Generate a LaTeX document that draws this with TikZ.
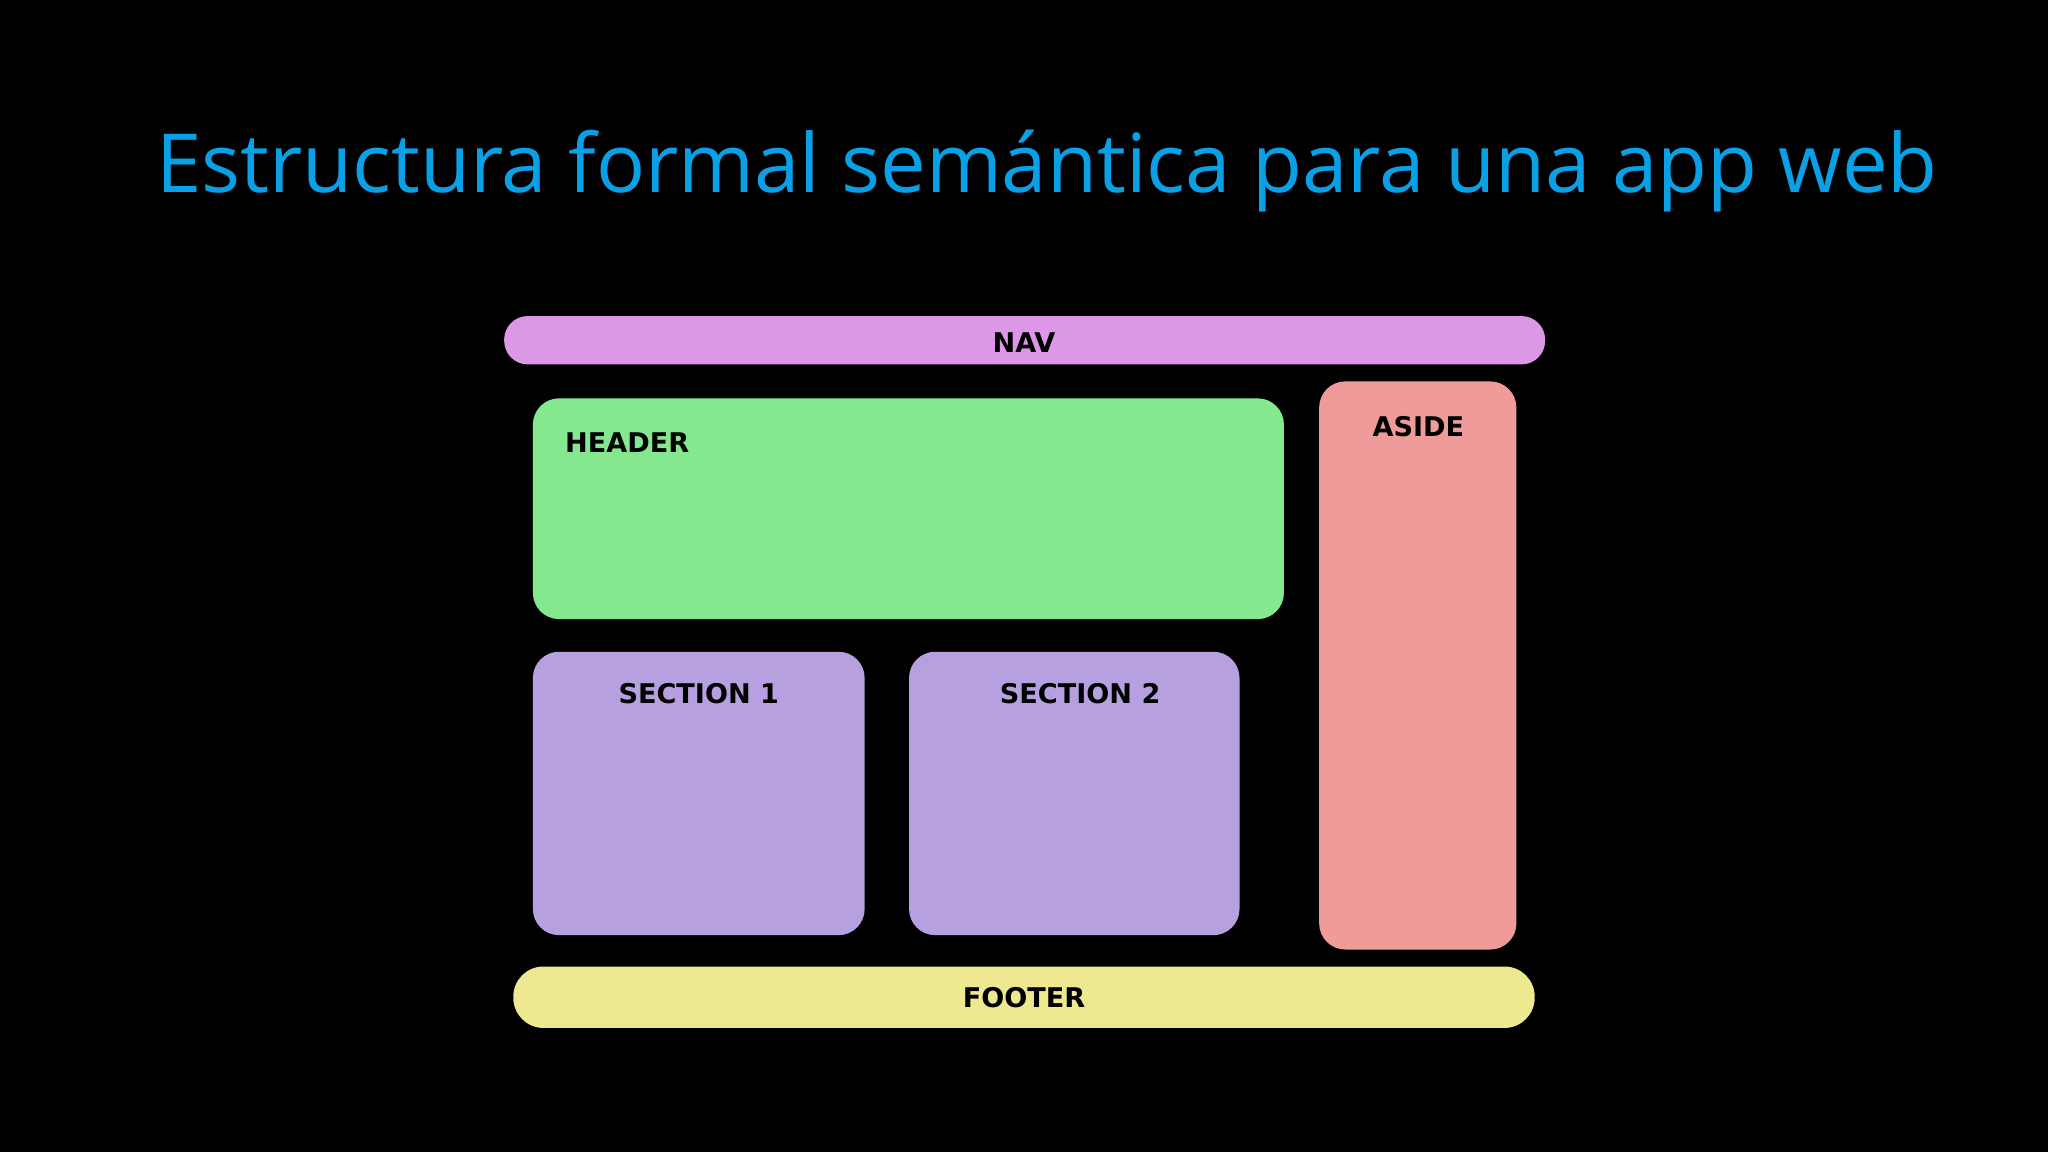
\documentclass[tikz,border=0pt]{standalone}
\usepackage{fontspec}
\setmainfont{Open Sans}
\newfontfamily\lbl{DejaVu Sans}
\definecolor{titleblue}{RGB}{10,160,230}
\definecolor{navc}{RGB}{220,152,230}
\definecolor{headc}{RGB}{134,232,142}
\definecolor{asidec}{RGB}{239,155,154}
\definecolor{secc}{RGB}{182,160,224}
\definecolor{footc}{RGB}{238,232,145}
\tikzset{
  blk/.style={fill=#1, draw=none, rounded corners=0.2cm},
  lab/.style={font=\lbl\bfseries\fontsize{5.9}{7}\selectfont, text=black, inner sep=0pt}
}
\begin{document}
\begin{tikzpicture}[x=0.01cm,y=0.01cm]
\fill[black] (0,0) rectangle (1568,-882);
\useasboundingbox (0,0) rectangle (1568,-882);
\node[text=titleblue, font=\fontsize{17.75}{21}\selectfont, anchor=west, inner sep=0pt] (title) at (119,-131) {Estructura formal semántica para una app web};
\fill[blk=navc, rounded corners=0.18cm] (386,-279) rectangle (1183,-242);
\node[lab] (nav) at (784,-262) {NAV};
\fill[blk=headc] (408,-474) rectangle (983,-305);
\node[lab, anchor=west] (header) at (432,-339) {HEADER};
\fill[blk=asidec] (1010,-727) rectangle (1161,-292);
\node[lab] (aside) at (1086,-327) {ASIDE};
\fill[blk=secc] (408,-716) rectangle (662,-499);
\node[lab] (s1) at (535,-531) {SECTION 1};
\fill[blk=secc] (696,-716) rectangle (949,-499);
\node[lab] (s2) at (827,-531) {SECTION 2};
\fill[blk=footc, rounded corners=0.23cm] (393,-787) rectangle (1175,-740);
\node[lab] (footer) at (784,-764) {FOOTER};
\end{tikzpicture}
\end{document}
